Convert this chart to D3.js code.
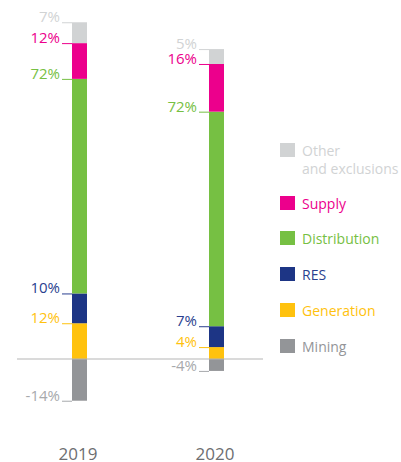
<!DOCTYPE html>
<html>
<head>
<meta charset="utf-8">
<script src="https://cdn.jsdelivr.net/npm/d3@7"></script>
<style>
  html, body { margin: 0; padding: 0; background: #fff; }
  svg { display: block; font-family: "Open Sans", sans-serif; }
</style>
</head>
<body>
<svg id="chart" width="401" height="462"></svg>
<script>
// ---- data ----
const years = ["2019", "2020"];
const categories = ["Mining", "Generation", "RES", "Distribution", "Supply", "Other"];
const legendOrder = ["Other", "Supply", "Distribution", "RES", "Generation", "Mining"];
const legendLabels = ["Other|and exclusions", "Supply", "Distribution", "RES", "Generation", "Mining"];
const values2019 = [-14, 12, 10, 72, 12, 7];
const values2020 = [-4, 4, 7, 72, 16, 5];

// ---- styles ----
const colors = {
  Mining: "#939598",
  Generation: "#ffc20e",
  RES: "#1d3585",
  Distribution: "#76c043",
  Supply: "#ec008c",
  Other: "#d1d3d4"
};
const textColors = {
  Mining: "#a7a9ac",
  Generation: "#ffc20e",
  RES: "#2a3f8f",
  Distribution: "#76c043",
  Supply: "#ec008c",
  Other: "#d1d3d4"
};

const rows = years.map((yr, i) => {
  const vals = i === 0 ? values2019 : values2020;
  const r = { year: yr };
  categories.forEach((c, j) => r[c] = vals[j]);
  return r;
});

const svg = d3.select("#chart");

const x = d3.scalePoint().domain(years).range([79.5, 216.5]);
const y = d3.scaleLinear().domain([0, 100]).range([359, 61]);
const barW = 15;

const stack = d3.stack().keys(categories).offset(d3.stackOffsetDiverging);
const series = stack(rows);

// bars
const g = svg.append("g");
series.forEach(s => {
  g.selectAll(null).data(s).enter().append("rect")
    .attr("x", d => x(d.data.year) - barW / 2)
    .attr("width", barW)
    .attr("y", d => y(Math.max(d[0], d[1])))
    .attr("height", d => Math.abs(y(d[0]) - y(d[1])))
    .attr("fill", colors[s.key]);
});

// zero line
svg.append("line")
  .attr("x1", 17).attr("x2", 263)
  .attr("y1", y(0)).attr("y2", y(0))
  .attr("stroke", "#b5b5b5").attr("stroke-width", 1);

// value labels with leader ticks
series.forEach(s => {
  s.forEach(d => {
    const v = d.data[s.key];
    const edge = v >= 0 ? y(Math.max(d[0], d[1])) : y(Math.min(d[0], d[1]));
    const bx = x(d.data.year) - barW / 2;
    svg.append("line")
      .attr("x1", bx - 10).attr("x2", bx)
      .attr("y1", edge + 0.5).attr("y2", edge + 0.5)
      .attr("stroke", textColors[s.key]).attr("stroke-width", 1);
    svg.append("text")
      .attr("x", bx - 12)
      .attr("y", edge)
      .attr("text-anchor", "end")
      .attr("font-size", 15)
      .attr("fill", textColors[s.key])
      .text(v + "%");
  });
});

// year labels
svg.selectAll(".yr").data(years).enter().append("text")
  .attr("x", d => x(d) - 1.5)
  .attr("y", 460)
  .attr("text-anchor", "middle")
  .attr("font-size", 17)
  .attr("fill", "#6d6e71")
  .text(d => d);

// legend
const legendY = [143, 196, 231, 267, 303, 339];
legendOrder.forEach((c, i) => {
  const ly = legendY[i];
  svg.append("rect")
    .attr("x", 280).attr("y", ly)
    .attr("width", 15).attr("height", 14)
    .attr("fill", colors[c]);
  const lines = legendLabels[i].split("|");
  const t = svg.append("text")
    .attr("x", 302).attr("y", ly + 13)
    .attr("font-size", 14)
    .attr("fill", c === "Mining" ? "#939598" : textColors[c]);
  lines.forEach((ln, k) => {
    t.append("tspan").attr("x", 302).attr("dy", k === 0 ? 0 : 18).text(ln);
  });
});
</script>
</body>
</html>
